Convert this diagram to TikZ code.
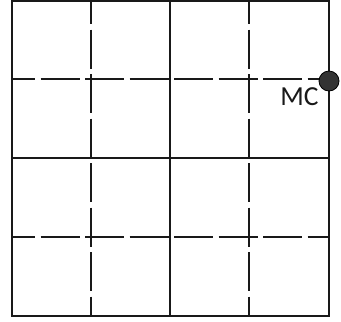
\documentclass[tikz,border=0pt]{standalone}
\usepackage{fontspec}
\setmainfont{Carlito}
\begin{document}
\begin{tikzpicture}[x=1pt,y=-1pt,
  gridline/.style={line width=1.9pt,draw=black!90},
  dashline/.style={gridline,dash pattern=on 39pt off 5.5pt,dash phase=16pt},
  dot/.style={circle,fill=black!80,draw=black,line width=0.8pt,minimum size=20pt,inner sep=0pt},
  lbl/.style={font=\fontsize{27.5}{27.5}\selectfont,text=black!90,inner sep=0pt}]
\useasboundingbox (0,0) rectangle (341,322);
\fill[white] (0,0) rectangle (341,322);
% solid lines
\draw[gridline] (12,1) rectangle (329,316);
\draw[gridline] (170,1) -- (170,316);
\draw[gridline] (12,158) -- (329,158);
% dashed lines
\draw[dashline] (91,1) -- (91,316);
\draw[dashline] (249,1) -- (249,316);
\draw[dashline] (12,79) -- (329,79);
\draw[dashline] (12,237) -- (329,237);
% marker
\node[dot] (mc) at (329,81) {};
\node[lbl] (mclabel) at (299.5,97) {MC};
\end{tikzpicture}
\end{document}
